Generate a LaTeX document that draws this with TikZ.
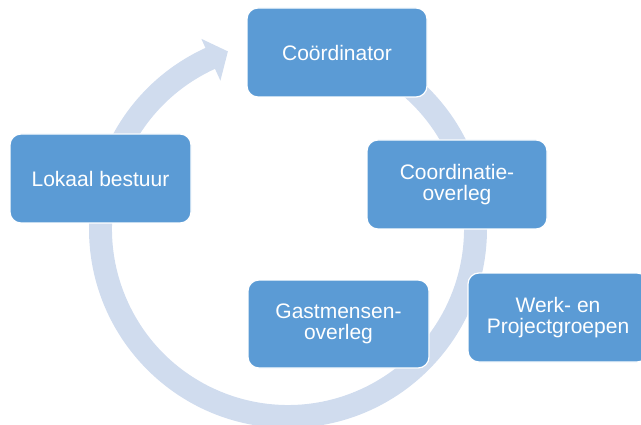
\documentclass[tikz,border=0pt]{standalone}
\usepackage{fontspec}
\setmainfont{Liberation Sans}
\definecolor{boxblue}{RGB}{91,155,213}
\definecolor{arcblue}{RGB}{208,220,238}
\begin{document}
\begin{tikzpicture}[x=1pt,y=1pt,
  blk/.style={rectangle, rounded corners=11pt, fill=boxblue, draw=white, line width=1.2pt,
    minimum width=180pt, minimum height=89pt, text=white, align=center,
    font=\fontsize{21}{21.5}\selectfont, inner sep=0pt}]
\useasboundingbox (0,0) rectangle (641,424);
% circular arrow
\fill[arcblue, shift={(288,195)}] (90:199) arc[start angle=90, end angle=-245.5, radius=199]
  -- (-245.5:209) -- (-251.3:187.5) -- (-245.5:163) -- (-245.5:176)
  arc[start angle=-245.5, end angle=90, radius=176] -- cycle;
% boxes
\node[blk] (coord) at (337,371.5) {Coördinator};
\node[blk, minimum width=181pt] (lokaal) at (100.5,245.5) {Lokaal bestuur};
\node[blk] (coordov) at (457,239.5) {Coordinatie-\\overleg};
\node[blk, minimum width=181pt, minimum height=88pt] (gast) at (338.5,100) {Gastmensen-\\overleg};
\node[blk] (werk) at (558,106.5) {Werk- en\\Projectgroepen};
\end{tikzpicture}
\end{document}
